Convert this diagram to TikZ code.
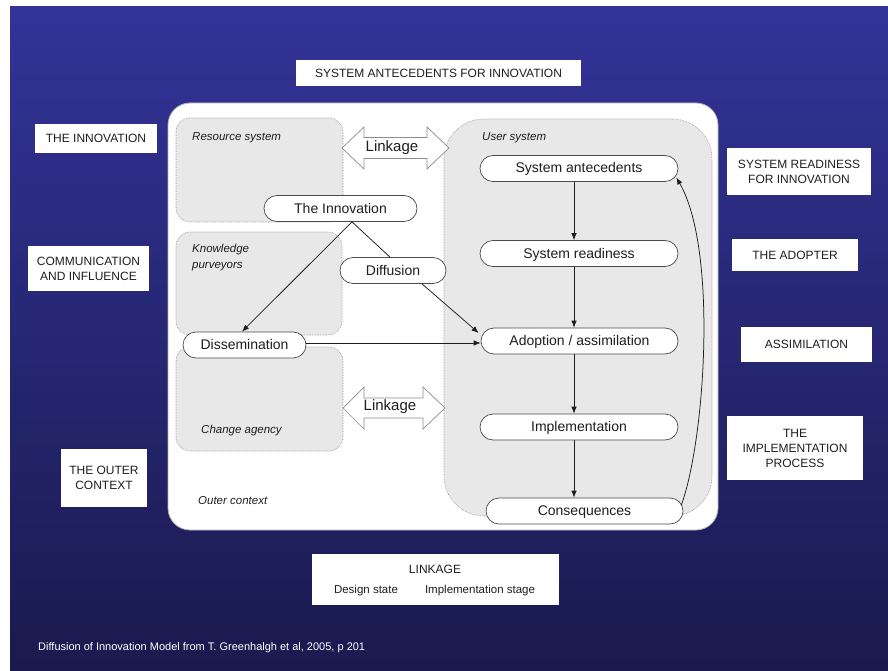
\documentclass[tikz,border=0pt]{standalone}
\usepackage{fontspec}
\setmainfont{Liberation Sans}
\usetikzlibrary{arrows.meta}
\definecolor{bgtop}{RGB}{51,51,153}
\definecolor{bgbot}{RGB}{26,26,78}
\definecolor{panel}{RGB}{232,232,232}
\definecolor{edge}{RGB}{140,140,140}
\definecolor{ink}{RGB}{30,30,30}
\begin{document}
\begin{tikzpicture}[x=1pt,y=-1pt,
  pill/.style={draw=ink!80, line width=0.7pt, fill=white, rounded corners=13pt, minimum height=26pt, inner sep=0pt, text height=10pt, text depth=1pt, font=\fontsize{14}{16}\selectfont, text=ink},
  lbl/.style={fill=white, inner sep=0pt, align=center, font=\fontsize{12}{15}\selectfont, text=ink},
  panelbox/.style={fill=panel, draw=edge, densely dotted, line width=0.6pt, rounded corners=14pt},
  tag/.style={font=\fontsize{11.5}{16}\selectfont\itshape, text=ink, anchor=west, inner sep=0pt, align=left},
  arr/.style={draw=ink, line width=0.75pt, -{Latex[length=7pt,width=5.5pt]}},
  plainline/.style={draw=ink, line width=0.75pt},
  linkarrow/.style={fill=white, draw=edge, line width=0.7pt, line join=miter},
  linktext/.style={font=\fontsize{15}{17}\selectfont, text=ink, inner sep=0pt}
]
\useasboundingbox (0,0) rectangle (888,671);
\fill[white] (0,0) rectangle (888,671);
\shade[top color=bgtop, bottom color=bgbot] (10,7) rectangle (888,671);

% main white panel
\draw[fill=white, draw=gray!60, line width=0.8pt, rounded corners=22pt] (168,103) rectangle (718,530);

% grey panels
\draw[panelbox] (176,118) rectangle (343,222);
\draw[panelbox] (176,232) rectangle (342,335);
\draw[panelbox] (176,347) rectangle (343,451);
\draw[panelbox, rounded corners=40pt] (444,119) rectangle (712,516);

% linkage double arrows
\draw[linkarrow] (342,148) -- (364,127) -- (364,137.5) -- (427,137.5) -- (427,127) -- (449,148) -- (427,169) -- (427,158.5) -- (364,158.5) -- (364,169) -- cycle;
\node[linktext] (link1) at (392,148) {Linkage};
\draw[linkarrow] (343,408) -- (364,387) -- (364,398) -- (423,398) -- (423,387) -- (445,408) -- (423,429) -- (423,418) -- (364,418) -- (364,429) -- cycle;
\node[linktext] (link2) at (390,407) {Linkage};

% panel labels
\node[tag] (rs) at (192,138) {Resource system};
\node[tag] (kp) at (192,258) {Knowledge\\purveyors};
\node[tag] (ca) at (201,431) {Change agency};
\node[tag] (oc) at (198,501) {Outer context};
\node[tag] (us) at (482,138) {User system};

% pills
\node[pill, minimum width=153pt] (inno) at (340.5,208.5) {The Innovation};
\node[pill, minimum width=106pt] (diff) at (393,270.5) {Diffusion};
\node[pill, minimum width=123pt] (diss) at (244.5,345) {Dissemination};
\node[pill, minimum width=198pt] (ant) at (579,168.5) {System antecedents};
\node[pill, minimum width=198pt] (rdy) at (579,253.5) {System readiness};
\node[pill, minimum width=197pt] (adopt) at (579.5,341) {Adoption / assimilation};
\node[pill, minimum width=198pt] (impl) at (579,427) {Implementation};
\node[pill, minimum width=197pt] (cons) at (584.5,511) {Consequences};

% connectors
\draw[arr] ([xshift=-5pt]ant.south) -- ([xshift=-5pt]rdy.north);
\draw[arr] ([xshift=-5pt]rdy.south) -- ([xshift=-5.5pt]adopt.north);
\draw[arr] ([xshift=-5.5pt]adopt.south) -- ([xshift=-5pt]impl.north);
\draw[arr] ([xshift=-5pt]impl.south) -- ([xshift=-10.5pt]cons.north);
\draw[arr] ([xshift=11.5pt]inno.south) -- ([xshift=-2.5pt]diss.north);
\draw[plainline] ([xshift=11.5pt]inno.south) -- ([xshift=-3pt]diff.north);
\draw[arr] ([xshift=29pt]diff.south) -- ([xshift=-2pt,yshift=8pt]adopt.west);
\draw[arr] ([yshift=2pt]diss.east) -- ([yshift=-2pt]adopt.west);
\draw[arr] ([xshift=-2pt,yshift=6pt]cons.east) .. controls (705,440) and (718,250) .. ([xshift=-2pt,yshift=-9pt]ant.east);

% white caption boxes
\node[lbl, minimum width=285pt, minimum height=26pt] (t1) at (438.5,73) {SYSTEM ANTECEDENTS FOR INNOVATION};
\node[lbl, minimum width=122pt, minimum height=29pt] (l1) at (96,138.5) {THE INNOVATION};
\node[lbl, minimum width=121pt, minimum height=45pt] (l2) at (88.5,268.5) {COMMUNICATION\\AND INFLUENCE};
\node[lbl, minimum width=86pt, minimum height=58pt] (l3) at (104,478) {THE OUTER\\CONTEXT};
\node[lbl, minimum width=144pt, minimum height=47pt] (r1) at (799,171.5) {SYSTEM READINESS\\FOR INNOVATION};
\node[lbl, minimum width=126pt, minimum height=32pt] (r2) at (795,255) {THE ADOPTER};
\node[lbl, minimum width=131pt, minimum height=35pt] (r3) at (806.5,344.5) {ASSIMILATION};
\node[lbl, minimum width=136pt, minimum height=64pt] (r4) at (795,448) {THE\\IMPLEMENTATION\\PROCESS};
\node[lbl, minimum width=247pt, minimum height=51pt] (b1) at (435.5,579.5) {};
\node[lbl, font=\fontsize{12}{14}\selectfont] (b1t) at (435,569) {LINKAGE};
\node[lbl, font=\fontsize{11.5}{14}\selectfont] (b1a) at (366,591) {Design state};
\node[lbl, font=\fontsize{11.5}{14}\selectfont] (b1b) at (480,591) {Implementation stage};

% footer
\node[anchor=west, text=white, font=\fontsize{11}{13}\selectfont, inner sep=0pt] (foot) at (38,648) {Diffusion of Innovation Model from T. Greenhalgh et al, 2005, p 201};
\end{tikzpicture}
\end{document}
